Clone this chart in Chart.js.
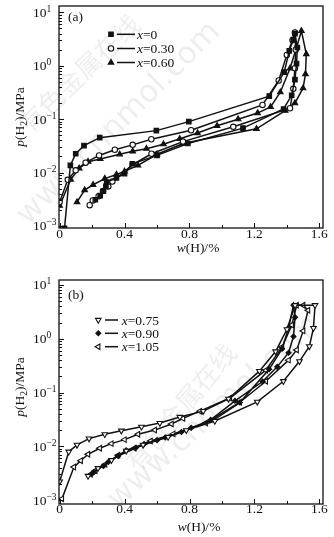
<!DOCTYPE html>
<html>
<head>
<meta charset="utf-8">
<script src="https://cdn.jsdelivr.net/npm/chart.js@4.4.0/dist/chart.umd.min.js"></script>
<style>
html, body { margin: 0; padding: 0; background: #fff; }
#wrap { position: relative; width: 334px; height: 537px; overflow: hidden; }
canvas { position: absolute; left: 0; }
</style>
</head>
<body>
<div id="wrap">
  <canvas id="chartA" width="334" height="268" style="top:0"></canvas>
  <canvas id="chartB" width="334" height="269" style="top:268px"></canvas>
</div>
<script>
// tick values
const xTicks = [0, 0.4, 0.8, 1.2, 1.6];
const yExps = [-3, -2, -1, 0, 1];

// panel (a): [w(H) %, p(H2) MPa], absorption branch then desorption branch
const a_x0 = [[0.03, 0.0009], [0.066, 0.0136], [0.099, 0.0225], [0.15, 0.032], [0.247, 0.045],
  [0.596, 0.061], [0.796, 0.09], [1.292, 0.27], [1.384, 0.76], [1.415, 1.9], [1.44, 3.1], [1.45, 4.0],
  [1.465, 2.2], [1.46, 1.1], [1.45, 0.55], [1.43, 0.28], [1.38, 0.155], [1.13, 0.068], [0.79, 0.035],
  [0.60, 0.021], [0.448, 0.0146], [0.40, 0.0095], [0.35, 0.0079], [0.29, 0.0066], [0.285, 0.0055],
  [0.27, 0.0045], [0.25, 0.0037], [0.22, 0.0031]];
const a_x030 = [[0, 0.0028], [0.05, 0.0073], [0.099, 0.011], [0.16, 0.0153], [0.243, 0.0209],
  [0.34, 0.0267], [0.45, 0.033], [0.565, 0.042], [0.81, 0.062], [1.25, 0.185], [1.35, 0.53],
  [1.40, 1.6], [1.435, 3.0], [1.45, 4.2], [1.455, 2.0], [1.45, 0.9], [1.44, 0.37], [1.42, 0.16],
  [1.07, 0.072], [0.76, 0.038], [0.566, 0.0225], [0.45, 0.014], [0.325, 0.0068], [0.30, 0.0055],
  [0.267, 0.0045], [0.24, 0.0036], [0.204, 0.003], [0.185, 0.00245]];
const a_x060 = [[0, 0.0024], [0.068, 0.0074], [0.12, 0.012], [0.175, 0.016], [0.25, 0.018],
  [0.37, 0.022], [0.45, 0.025], [0.535, 0.028], [0.64, 0.034], [0.74, 0.043], [0.85, 0.055],
  [0.97, 0.075], [1.10, 0.1], [1.22, 0.13], [1.30, 0.17], [1.36, 0.32], [1.42, 0.9], [1.46, 2.2],
  [1.49, 4.5], [1.52, 1.66], [1.515, 0.7], [1.50, 0.38], [1.45, 0.2], [1.39, 0.145], [1.213, 0.066],
  [0.76, 0.035], [0.60, 0.022], [0.483, 0.0136], [0.40, 0.0105], [0.35, 0.0092], [0.278, 0.0077],
  [0.206, 0.0059], [0.154, 0.0047], [0.107, 0.0028]];

// panel (b)
const b_x075 = [[0, 0.0022], [0.056, 0.0079], [0.107, 0.0106], [0.181, 0.0139], [0.278, 0.0167],
  [0.38, 0.0195], [0.504, 0.023], [0.617, 0.027], [0.74, 0.035], [0.884, 0.045], [1.04, 0.076],
  [1.23, 0.25], [1.33, 0.58], [1.40, 1.5], [1.45, 4.2], [1.573, 4.2], [1.563, 1.58], [1.538, 0.72],
  [1.477, 0.38], [1.378, 0.162], [1.217, 0.067], [0.956, 0.0295], [0.78, 0.0198], [0.668, 0.0149],
  [0.514, 0.0106], [0.41, 0.0082], [0.319, 0.0055], [0.236, 0.0039], [0.175, 0.0028]];
const b_x090 = [[0.20, 0.0031], [0.30, 0.0051], [0.41, 0.0084], [0.52, 0.011], [0.65, 0.0145],
  [0.81, 0.022], [0.95, 0.031], [1.11, 0.065], [1.29, 0.27], [1.37, 0.65], [1.41, 1.6], [1.44, 4.2],
  [1.45, 2.5], [1.44, 1.1], [1.41, 0.55], [1.34, 0.3], [1.25, 0.16], [1.08, 0.07], [0.93, 0.031],
  [0.75, 0.0185], [0.60, 0.013], [0.47, 0.0094], [0.36, 0.0066], [0.27, 0.0043], [0.21, 0.0033]];
const b_x105 = [[0.014, 0.00105], [0.088, 0.0041], [0.13, 0.0054], [0.175, 0.0071], [0.247, 0.0092],
  [0.319, 0.0112], [0.40, 0.0133], [0.483, 0.0167], [0.586, 0.020], [0.689, 0.026], [0.76, 0.033],
  [0.864, 0.045], [1.049, 0.079], [1.27, 0.26], [1.37, 0.7], [1.43, 1.8], [1.46, 4.2], [1.50, 4.2],
  [1.53, 3.4], [1.50, 1.4], [1.46, 0.62], [1.41, 0.4], [1.27, 0.162], [1.11, 0.066], [0.90, 0.027],
  [0.70, 0.017], [0.56, 0.0125], [0.46, 0.0092], [0.36, 0.0068], [0.28, 0.0046], [0.22, 0.0035],
  [0.19, 0.003]];

const SERIF = '"Liberation Serif", "DejaVu Serif", serif';

const panelA = {
  tag: '(a)', tagX: 68, tagY: 21,
  pad: { left: 59, right: 11, top: 6, bottom: 40 },
  xMin: -0.004, xMax: 1.623, yMin: Math.pow(10, -3.039), yMax: Math.pow(10, 1.12),
  xLabelY: 238, xTitleY: 252, xTitleX: 198, yTitleX: 20, yTitleY: 117,
  legX: 111, legRows: [34.3, 48.5, 62.5], legLine: [117, 135], legText: 137,
  series: [
    { name: '0', data: a_x0, style: 'rect', r: 3.2, fill: '#111' },
    { name: '0.30', data: a_x030, style: 'circle', r: 2.7, fill: '#fff' },
    { name: '0.60', data: a_x060, style: 'triangle', r: 3.2, fill: '#111' }
  ],
  marks: [
    { t: '有色金属在线', font: '26px "Noto Sans CJK SC"', x: 30, y: 135, rot: -44 },
    { t: 'www.cnnmol.com', font: '31px "DejaVu Sans"', x: 28, y: 226, rot: -45 }
  ]
};

const panelB = {
  tag: '(b)', tagX: 68, tagY: 31,
  pad: { left: 59, right: 11, top: 12, bottom: 33 },
  xMin: -0.004, xMax: 1.622, yMin: Math.pow(10, -3.074), yMax: Math.pow(10, 1.093),
  xLabelY: 245, xTitleY: 263, xTitleX: 199, yTitleX: 20, yTitleY: 119,
  legX: 98.3, legRows: [52, 65.3, 78.7], legLine: [105, 118], legText: 121.7,
  series: [
    { name: '0.75', data: b_x075, style: 'triangle', rot: 180, r: 3.2, fill: '#fff' },
    { name: '0.90', data: b_x090, style: 'rectRot', r: 2.5, fill: '#111' },
    { name: '1.05', data: b_x105, style: 'triangle', rot: 270, r: 3.2, fill: '#fff' }
  ],
  marks: [
    { t: '有色金属在线', font: '26px "Noto Sans CJK SC"', x: 138, y: 205, rot: -50 },
    { t: 'www.cnnmol.com', font: '31px "DejaVu Sans"', x: 118, y: 242, rot: -42 }
  ]
};

// draw a run of text pieces left to right
function drawParts(ctx, parts, x, y) {
  let cx = x;
  parts.forEach(p => {
    ctx.font = p.font;
    ctx.fillText(p.t, cx, y + (p.dy || 0));
    cx += ctx.measureText(p.t).width;
  });
  return cx - x;
}
function partsWidth(ctx, parts) {
  let w = 0;
  parts.forEach(p => { ctx.font = p.font; w += ctx.measureText(p.t).width; });
  return w;
}

function makeFramePlugin(panel) {
  return {
    id: 'frame',
    beforeDatasetsDraw(chart) {
      const ctx = chart.ctx;
      ctx.save();
      ctx.fillStyle = 'rgba(0,0,0,0.07)';
      ctx.textBaseline = 'alphabetic';
      panel.marks.forEach(m => {
        ctx.save();
        ctx.translate(m.x, m.y);
        ctx.rotate(m.rot * Math.PI / 180);
        ctx.font = m.font;
        ctx.fillText(m.t, 0, 0);
        ctx.restore();
      });
      ctx.restore();
    },
    afterDraw(chart) {
      const { ctx, chartArea: ca, scales: { x, y } } = chart;
      ctx.save();
      ctx.strokeStyle = '#111';
      ctx.fillStyle = '#111';
      ctx.lineWidth = 1.3;
      ctx.strokeRect(ca.left, ca.top, ca.right - ca.left, ca.bottom - ca.top);

      // inward ticks on the log axis
      ctx.lineWidth = 1;
      yExps.forEach(e => {
        for (let m = 1; m <= 9; m++) {
          const v = m * Math.pow(10, e);
          if (v < y.min || v > y.max) continue;
          const py = Math.round(y.getPixelForValue(v)) + 0.5;
          ctx.beginPath();
          ctx.moveTo(ca.left, py);
          ctx.lineTo(ca.left + (m === 1 ? 5 : 3), py);
          ctx.stroke();
        }
      });
      // inward ticks on the w axis
      for (let v = 0; v <= 1.6001; v += 0.2) {
        const px = Math.round(x.getPixelForValue(v)) + 0.5;
        const major = Math.abs(v / 0.4 - Math.round(v / 0.4)) < 1e-6;
        ctx.beginPath();
        ctx.moveTo(px, ca.bottom);
        ctx.lineTo(px, ca.bottom - (major ? 5 : 3));
        ctx.stroke();
      }

      ctx.textBaseline = 'alphabetic';
      // y tick labels 10^n
      yExps.forEach(e => {
        const py = y.getPixelForValue(Math.pow(10, e));
        const exp = e < 0 ? '\u2212' + (-e) : String(e);
        drawParts(ctx, [
          { t: '10', font: '13.5px ' + SERIF },
          { t: exp, font: '9.5px ' + SERIF, dy: -5 }
        ], 33, py + 4.5);
      });
      // x tick labels
      ctx.font = '13.5px ' + SERIF;
      ctx.textAlign = 'center';
      xTicks.forEach(v => {
        ctx.fillText(String(v), x.getPixelForValue(v), panel.xLabelY);
      });
      ctx.textAlign = 'left';

      // x title
      const xt = [
        { t: 'w', font: 'italic 13.5px ' + SERIF },
        { t: '(H)/%', font: '13.5px ' + SERIF }
      ];
      drawParts(ctx, xt, panel.xTitleX - partsWidth(ctx, xt) / 2, panel.xTitleY);

      // y title, rotated
      const yt = [
        { t: 'p', font: 'italic 13.5px ' + SERIF },
        { t: '(H', font: '13.5px ' + SERIF },
        { t: '2', font: '9.5px ' + SERIF, dy: 3 },
        { t: ')/MPa', font: '13.5px ' + SERIF }
      ];
      ctx.save();
      ctx.translate(panel.yTitleX + 4, panel.yTitleY);
      ctx.rotate(-Math.PI / 2);
      drawParts(ctx, yt, -partsWidth(ctx, yt) / 2, 0);
      ctx.restore();

      // panel tag
      ctx.font = '13.5px ' + SERIF;
      ctx.fillText(panel.tag, panel.tagX, panel.tagY);

      // legend
      panel.series.forEach((s, i) => {
        const ry = panel.legRows[i];
        ctx.fillStyle = s.fill;
        ctx.strokeStyle = '#111';
        ctx.lineWidth = 1.1;
        Chart.helpers.drawPoint(ctx, { pointStyle: s.style, radius: s.r, rotation: s.rot || 0, borderWidth: 1.1 }, panel.legX, ry);
        ctx.lineWidth = 1.5;
        ctx.beginPath();
        ctx.moveTo(panel.legLine[0], ry);
        ctx.lineTo(panel.legLine[1], ry);
        ctx.stroke();
        ctx.fillStyle = '#111';
        drawParts(ctx, [
          { t: 'x', font: 'italic 13.5px ' + SERIF },
          { t: '=' + s.name, font: '13.5px ' + SERIF }
        ], panel.legText, ry + 4.5);
      });
      ctx.restore();
    }
  };
}

function makeChart(id, panel) {
  const datasets = panel.series.map(s => ({
    label: 'x=' + s.name,
    data: s.data.map(d => ({ x: d[0], y: d[1] })),
    showLine: true,
    tension: 0,
    borderColor: '#111',
    borderWidth: 1.5,
    pointStyle: s.style,
    pointRotation: s.rot || 0,
    pointRadius: s.r,
    pointBackgroundColor: s.fill,
    pointBorderColor: '#111',
    pointBorderWidth: 1.1
  }));
  return new Chart(document.getElementById(id).getContext('2d'), {
    type: 'scatter',
    data: { datasets: datasets },
    options: {
      responsive: false,
      animation: false,
      events: [],
      layout: { padding: panel.pad },
      plugins: { legend: { display: false }, tooltip: { enabled: false } },
      scales: {
        x: { type: 'linear', display: false, min: panel.xMin, max: panel.xMax },
        y: { type: 'logarithmic', display: false, min: panel.yMin, max: panel.yMax }
      }
    },
    plugins: [makeFramePlugin(panel)]
  });
}

const chartA = makeChart('chartA', panelA);
const chartB = makeChart('chartB', panelB);
</script>
</body>
</html>
